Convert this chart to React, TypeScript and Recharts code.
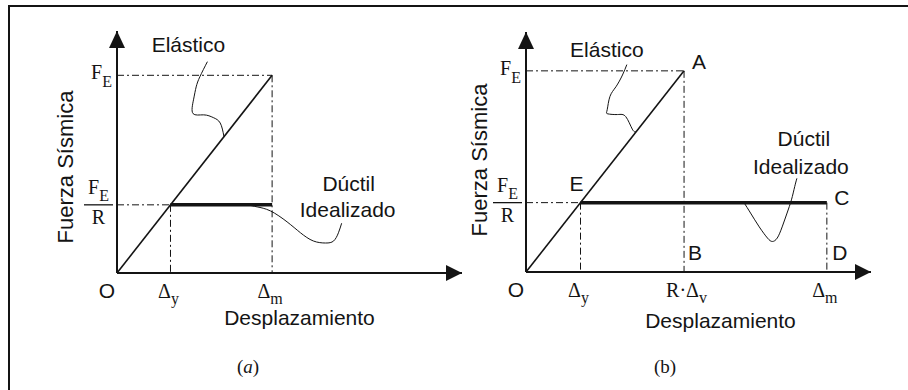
import {
  ComposedChart,
  Line,
  XAxis,
  YAxis,
  ReferenceLine,
  ReferenceDot,
  Label,
} from "recharts";

const INK = "#141414";
const SANS = "'Liberation Sans', Arial, sans-serif";
const SERIF = "'Liberation Serif', 'Times New Roman', serif";

type Pt = { x: number; y: number };

// ---- panel (a): displacement in units of Δy, force in units of F_E/R ----
const ticksXA = [0, 1, 2.9]; // O, Δy, Δm
const labelsXA = [["O"], ["Δ", "y"], ["Δ", "m"]];
const ticksYA = [1, 2.9]; // F_E/R, F_E
const extentA = [6.45, 3.55];
const elasticA: Pt[] = [
  { x: 0, y: 0 },
  { x: 2.9, y: 2.9 },
];
const ductileA: Pt[] = [
  { x: 1, y: 1 },
  { x: 2.9, y: 1 },
];
const elasticLeaderA: Pt[] = [
  { x: 1.69, y: 3.1 },
  { x: 1.55, y: 2.88 },
  { x: 1.48, y: 2.73 },
  { x: 1.43, y: 2.54 },
  { x: 1.42, y: 2.34 },
  { x: 1.62, y: 2.32 },
  { x: 1.8, y: 2.28 },
  { x: 1.93, y: 2.2 },
  { x: 2.0, y: 2.0 },
];
const ductileLeaderA: Pt[] = [
  { x: 2.45, y: 1.0 },
  { x: 2.62, y: 0.97 },
  { x: 2.87, y: 0.91 },
  { x: 3.18, y: 0.75 },
  { x: 3.43, y: 0.59 },
  { x: 3.67, y: 0.47 },
  { x: 3.9, y: 0.44 },
  { x: 4.05, y: 0.47 },
  { x: 4.14, y: 0.59 },
  { x: 4.2, y: 0.73 },
];

// ---- panel (b) ----
const ticksXB = [0, 1, 2.9, 5.52]; // O, Δy, R·Δv, Δm
const labelsXB = [["O"], ["Δ", "y"], ["R·Δ", "v"], ["Δ", "m"]];
const ticksYB = [1, 2.9];
const extentB = [6.33, 3.46];
const elasticB: Pt[] = [
  { x: 0, y: 0 },
  { x: 2.9, y: 2.9 },
];
const ductileB: Pt[] = [
  { x: 1, y: 1 },
  { x: 5.52, y: 1 },
];
const elasticLeaderB: Pt[] = [
  { x: 1.85, y: 2.99 },
  { x: 1.77, y: 2.84 },
  { x: 1.65, y: 2.67 },
  { x: 1.54, y: 2.53 },
  { x: 1.49, y: 2.34 },
  { x: 1.5, y: 2.28 },
  { x: 1.68, y: 2.27 },
  { x: 1.83, y: 2.24 },
  { x: 1.95, y: 2.06 },
  { x: 2.02, y: 2.02 },
];
const ductileLeaderB: Pt[] = [
  { x: 4.0, y: 1.0 },
  { x: 4.12, y: 0.85 },
  { x: 4.28, y: 0.65 },
  { x: 4.43, y: 0.49 },
  { x: 4.52, y: 0.44 },
  { x: 4.61, y: 0.49 },
  { x: 4.7, y: 0.65 },
  { x: 4.79, y: 0.85 },
  { x: 4.87, y: 1.04 },
  { x: 4.93, y: 1.23 },
  { x: 4.97, y: 1.35 },
];

type Tag = { text: string; at: Pt; dx: number; dy: number };

function XTick(props: any) {
  const { x, y, payload, ticks, labels } = props;
  const i = ticks.indexOf(payload.value);
  const [main, sub] = labels[i] ?? [""];
  if (!sub) {
    return (
      <text x={x - 10} y={y + 25} textAnchor="middle" fontFamily={SANS} fontSize={21} fill={INK}>
        {main}
      </text>
    );
  }
  const wide = main.length > 1;
  return (
    <text
      x={wide ? x - 18 : x - 2}
      y={y + 25}
      textAnchor={wide ? "start" : "middle"}
      fontFamily={SERIF}
      fontSize={20}
      fill={INK}
    >
      {main}
      <tspan fontSize={16} dy={6}>
        {sub}
      </tspan>
    </text>
  );
}

function YTick(props: any) {
  const { x, y, payload, frac } = props;
  if (payload.value === frac) {
    const cx = x - 18.5;
    return (
      <g fontFamily={SERIF} fill={INK}>
        <text x={cx} y={y - 11} textAnchor="middle" fontSize={20}>
          F
          <tspan fontSize={16} dy={7}>
            E
          </tspan>
        </text>
        <line x1={x - 33} x2={x - 4} y1={y} y2={y} stroke={INK} strokeWidth={1.3} />
        <text x={cx} y={y + 19} textAnchor="middle" fontSize={20}>
          R
        </text>
      </g>
    );
  }
  return (
    <text x={x - 5} y={y + 4} textAnchor="end" fontFamily={SERIF} fontSize={20} fill={INK}>
      F
      <tspan fontSize={16} dy={8}>
        E
      </tspan>
    </text>
  );
}

const tag = (key: string, t: Tag) => (
  <ReferenceDot
    key={key}
    x={t.at.x}
    y={t.at.y}
    r={0}
    ifOverflow="visible"
    shape={(p: any) => (
      <text
        x={p.cx + t.dx}
        y={p.cy + t.dy}
        textAnchor="middle"
        dominantBaseline="central"
        fontFamily={SANS}
        fontSize={21}
        fill={INK}
      >
        {t.text}
      </text>
    )}
  />
);

const DASH = "7 3 2 3";

type PanelProps = {
  left: number;
  width: number;
  margin: { top: number; right: number; bottom: number; left: number };
  extent: number[];
  ticksX: number[];
  labelsX: string[][];
  ticksY: number[];
  elastic: Pt[];
  ductile: Pt[];
  elasticLeader: Pt[];
  ductileLeader: Pt[];
  guides: Pt[][];
  tags: Tag[];
  titleX: number[];
  titleY: number[];
};

function Panel(p: PanelProps) {
  const [xMax, yMax] = p.extent;
  return (
    <div style={{ position: "absolute", left: p.left, top: 0 }}>
      <ComposedChart width={p.width} height={390} margin={p.margin} style={{ overflow: "visible" }}>
        <XAxis
          type="number"
          dataKey="x"
          domain={[0, xMax]}
          ticks={p.ticksX}
          interval={0}
          height={1}
          tickSize={0}
          tickMargin={0}
          tickLine={false}
          axisLine={{ stroke: INK, strokeWidth: 2 }}
          tick={(t: any) => <XTick {...t} ticks={p.ticksX} labels={p.labelsX} />}
        >
          <Label
            content={({ viewBox }: any) => (
              <text
                x={viewBox.x + viewBox.width / 2 + p.titleX[0]}
                y={viewBox.y + p.titleX[1]}
                textAnchor="middle"
                dominantBaseline="central"
                fontFamily={SANS}
                fontSize={21}
                fill={INK}
              >
                Desplazamiento
              </text>
            )}
          />
        </XAxis>
        <YAxis
          type="number"
          dataKey="y"
          domain={[0, yMax]}
          ticks={p.ticksY}
          interval={0}
          width={1}
          tickSize={0}
          tickMargin={0}
          tickLine={false}
          axisLine={{ stroke: INK, strokeWidth: 2 }}
          tick={(t: any) => <YTick {...t} frac={p.ticksY[0]} />}
        >
          <Label
            content={({ viewBox }: any) => {
              const cx = viewBox.x + viewBox.width + p.titleY[0];
              const cy = viewBox.y + viewBox.height / 2 + p.titleY[1];
              return (
                <text
                  x={cx}
                  y={cy}
                  transform={`rotate(-90 ${cx} ${cy})`}
                  textAnchor="middle"
                  dominantBaseline="central"
                  fontFamily={SANS}
                  fontSize={22}
                  fill={INK}
                >
                  Fuerza Sísmica
                </text>
              );
            }}
          />
        </YAxis>

        {p.guides.map((seg, i) => (
          <ReferenceLine
            key={`g${i}`}
            segment={seg}
            stroke={INK}
            strokeWidth={1}
            strokeDasharray={DASH}
            ifOverflow="visible"
          />
        ))}

        <Line
          data={p.elastic}
          dataKey="y"
          type="linear"
          stroke={INK}
          strokeWidth={1.6}
          dot={false}
          isAnimationActive={false}
        />
        <Line
          data={p.ductile}
          dataKey="y"
          type="linear"
          stroke={INK}
          strokeWidth={3.5}
          dot={false}
          isAnimationActive={false}
        />
        <Line
          data={p.elasticLeader}
          dataKey="y"
          type="natural"
          stroke={INK}
          strokeWidth={1}
          dot={false}
          isAnimationActive={false}
        />
        <Line
          data={p.ductileLeader}
          dataKey="y"
          type="natural"
          stroke={INK}
          strokeWidth={1}
          dot={false}
          isAnimationActive={false}
        />

        {/* axis arrowheads */}
        <ReferenceDot
          x={xMax}
          y={0}
          r={0}
          ifOverflow="visible"
          shape={(d: any) => (
            <polygon
              points={`${d.cx},${d.cy} ${d.cx - 16},${d.cy - 8} ${d.cx - 16},${d.cy + 8}`}
              fill={INK}
            />
          )}
        />
        <ReferenceDot
          x={0}
          y={yMax}
          r={0}
          ifOverflow="visible"
          shape={(d: any) => (
            <polygon
              points={`${d.cx},${d.cy} ${d.cx - 8},${d.cy + 17} ${d.cx + 8},${d.cy + 17}`}
              fill={INK}
            />
          )}
        />

        {p.tags.map((t, i) => tag(`t${i}`, t))}
      </ComposedChart>
    </div>
  );
}

export default function App() {
  const [, dyA, dmA] = ticksXA;
  const [feRA, feA] = ticksYA;
  const [, dyB, rdvB, dmB] = ticksXB;
  const [feRB, feB] = ticksYB;

  const guidesA: Pt[][] = [
    [{ x: 0, y: feA }, { x: dmA, y: feA }],
    [{ x: dmA, y: feA }, { x: dmA, y: 0 }],
    [{ x: 0, y: feRA }, { x: dyA, y: feRA }],
    [{ x: dyA, y: feRA }, { x: dyA, y: 0 }],
  ];
  const guidesB: Pt[][] = [
    [{ x: 0, y: feB }, { x: rdvB, y: feB }],
    [{ x: rdvB, y: feB }, { x: rdvB, y: 0 }],
    [{ x: 0, y: feRB }, { x: dyB, y: feRB }],
    [{ x: dyB, y: feRB }, { x: dyB, y: 0 }],
    [{ x: dmB, y: feRB }, { x: dmB, y: 0 }],
  ];

  const endA = ductileLeaderA[ductileLeaderA.length - 1];
  const endB = ductileLeaderB[ductileLeaderB.length - 1];

  const tagsA: Tag[] = [
    { text: "Elástico", at: elasticLeaderA[0], dx: -19, dy: -17 },
    { text: "Dúctil", at: endA, dx: 7, dy: -40 },
    { text: "Idealizado", at: endA, dx: 6, dy: -14 },
  ];
  const tagsB: Tag[] = [
    { text: "Elástico", at: elasticLeaderB[0], dx: -20, dy: -15 },
    { text: "Dúctil", at: endB, dx: 7, dy: -40 },
    { text: "Idealizado", at: endB, dx: 4, dy: -12 },
    { text: "A", at: { x: rdvB, y: feB }, dx: 15, dy: -9 },
    { text: "E", at: { x: dyB, y: feRB }, dx: -4, dy: -19 },
    { text: "C", at: { x: dmB, y: feRB }, dx: 15, dy: -5 },
    { text: "B", at: { x: rdvB, y: 0 }, dx: 11, dy: -20 },
    { text: "D", at: { x: dmB, y: 0 }, dx: 13, dy: -20 },
  ];

  return (
    <div
      style={{
        position: "absolute",
        left: 0,
        top: 0,
        width: 908,
        height: 390,
        overflow: "hidden",
        background: "#fff",
      }}
    >
      {/* frame */}
      <div
        style={{
          position: "absolute",
          left: 8,
          top: 5,
          width: 940,
          height: 420,
          borderTop: `2px solid ${INK}`,
          borderLeft: `2px solid ${INK}`,
        }}
      />
      <Panel
        left={0}
        width={470}
        margin={{ top: 31, right: 8, bottom: 116, left: 116 }}
        extent={extentA}
        ticksX={ticksXA}
        labelsX={labelsXA}
        ticksY={ticksYA}
        elastic={elasticA}
        ductile={ductileA}
        elasticLeader={elasticLeaderA}
        ductileLeader={ductileLeaderA}
        guides={guidesA}
        tags={tagsA}
        titleX={[10, 44]}
        titleY={[-52, 15]}
      />
      <Panel
        left={454}
        width={430}
        margin={{ top: 32, right: 13, bottom: 117, left: 71 }}
        extent={extentB}
        ticksX={ticksXB}
        labelsX={labelsXB}
        ticksY={ticksYB}
        elastic={elasticB}
        ductile={ductileB}
        elasticLeader={elasticLeaderB}
        ductileLeader={ductileLeaderB}
        guides={guidesB}
        tags={tagsB}
        titleX={[22, 48]}
        titleY={[-47, 8]}
      />
      <div
        style={{
          position: "absolute",
          left: 248,
          top: 367,
          transform: "translate(-50%, -50%)",
          fontFamily: SERIF,
          fontSize: 19,
          color: INK,
        }}
      >
        (<i>a</i>)
      </div>
      <div
        style={{
          position: "absolute",
          left: 665,
          top: 367,
          transform: "translate(-50%, -50%)",
          fontFamily: SERIF,
          fontSize: 19,
          color: INK,
        }}
      >
        (b)
      </div>
    </div>
  );
}
